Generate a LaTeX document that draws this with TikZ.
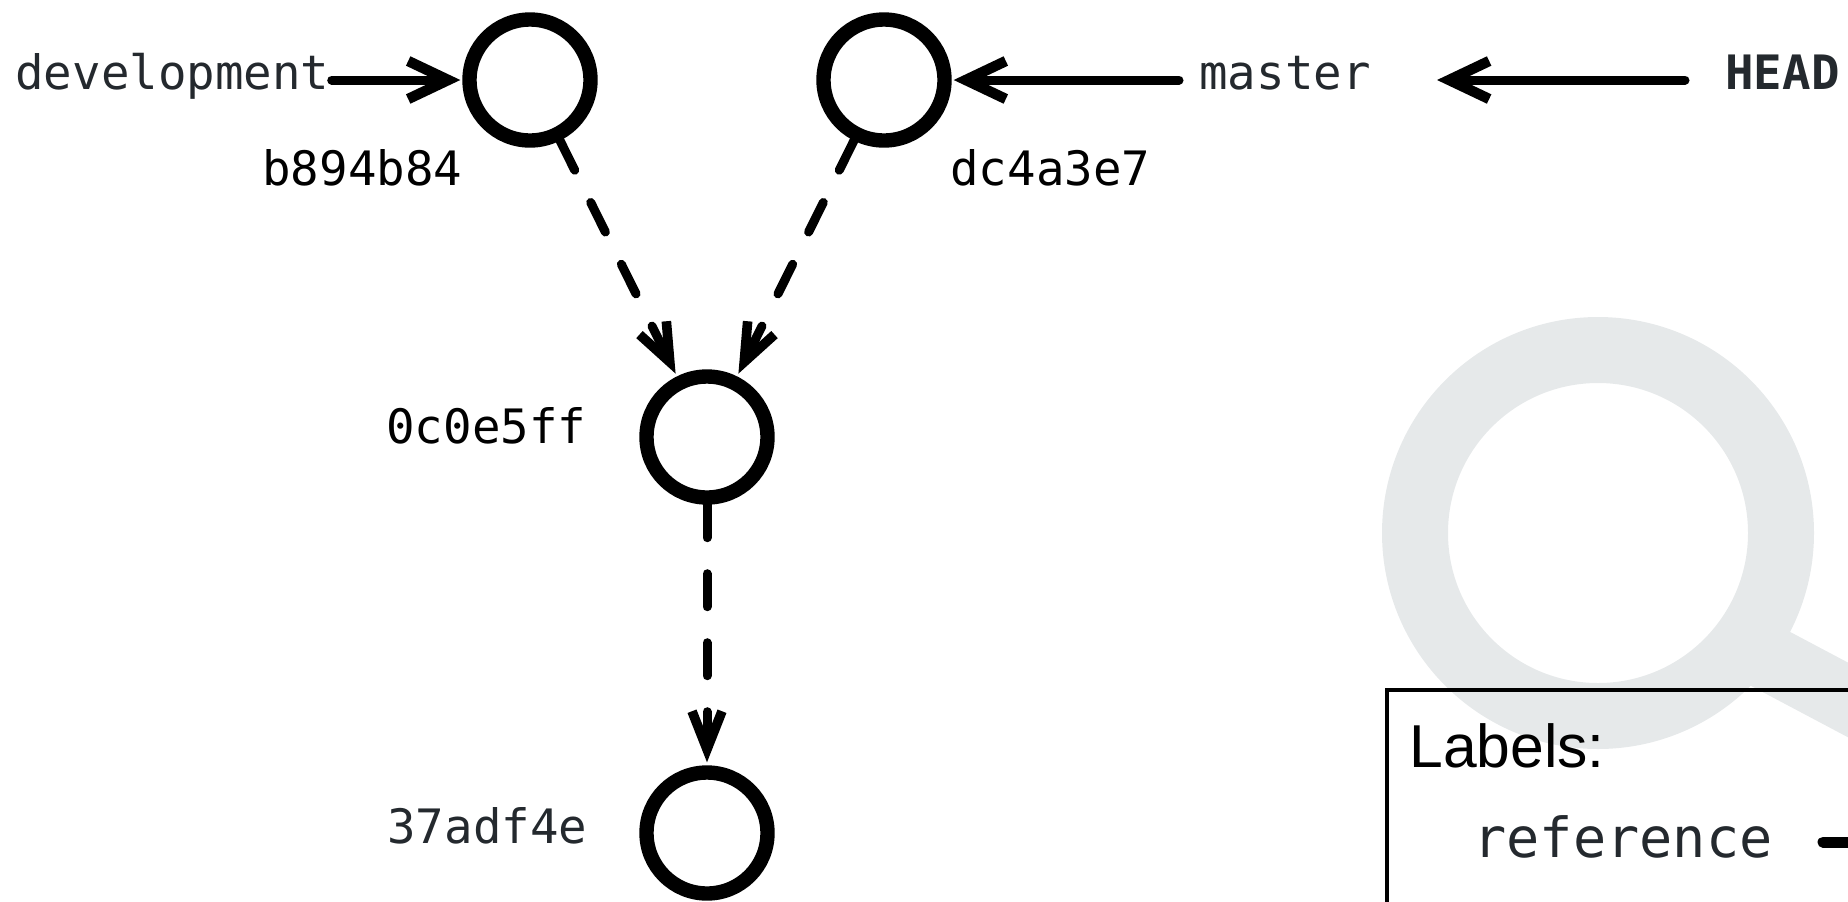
\documentclass[tikz,border=0pt]{standalone}
\usepackage{fontspec}
\usepackage{xcolor}
\usetikzlibrary{arrows.meta}
\setmainfont{Liberation Sans}
\newfontfamily\hashfont{DejaVu Sans Mono}
\definecolor{Lens}{RGB}{230, 233, 234}
\definecolor{Slate}{RGB}{36, 41, 46}
\tikzset{
    commit/.style={draw,circle,line width=7.2pt,minimum size=60.5pt,inner sep=0pt},
    monotext/.style={anchor=west,inner sep=0pt,text height=15pt,text depth=6pt,font={\hashfont\fontsize{23.7pt}{28pt}\selectfont}},
    reflink/.style={line width=4.5pt,line cap=round,-{Straight Barb[length=20pt,width=19pt,line width=5.2pt]},shorten >=1pt},
    parentlink/.style={line width=4.5pt,line cap=round,dash pattern=on 16.5pt off 18pt,-{Straight Barb[length=19pt,width=15pt,line width=4.8pt]},shorten >=1.5pt}
}

\begin{document}
\begin{tikzpicture}[x=0.5pt,y=-0.5pt]
    \clip (0,0) rectangle (1848,901);
    % lens behind the legend
    \draw[Lens,line width=33pt] (1598,533) circle (183);
    \draw[Lens,line width=33pt] (1750,648) -- (1950,754);

    \node[commit] (b894) at (530,80) {};
    \node[commit] (dc4a) at (884,80) {};
    \node[commit] (c0e5) at (707,437) {};
    \node[commit] (adf4) at (707,833) {};

    \node[monotext,text=black] (b894label) at (262,176) {b894b84};
    \node[monotext,text=black] (dc4alabel) at (950,176) {dc4a3e7};
    \node[monotext,text=black] (c0e5label) at (386,434) {0c0e5ff};
    \node[monotext,text=Slate] (adf4label) at (387,834) {37adf4e};

    \node[monotext,text=Slate] (development) at (15,80) {development};
    \node[monotext,text=Slate] (master) at (1199,80) {master};
    \node[monotext,text=Slate,font={\hashfont\bfseries\fontsize{23.7pt}{28pt}\selectfont}] (head) at (1725,80) {HEAD};

    \draw[reflink,shorten <=1pt] (development) -- (b894);
    \draw[reflink,shorten <=10pt] (master) -- (dc4a);
    \draw[reflink,shorten <=20pt,shorten >=33pt] (head) -- (master);

    \draw[parentlink] (b894) -- (c0e5);
    \draw[parentlink] (dc4a) -- (c0e5);
    \draw[parentlink] (c0e5) -- (adf4);

    % legend, runs off the page
    \draw[line width=2pt] (1386.5,690) rectangle (1950,1000);
    \node[anchor=base west,inner sep=0pt,font={\fontsize{30.3pt}{34pt}\selectfont}] (legendtitle) at (1409,767) {Labels:};
    \node[monotext,text=Slate,font={\hashfont\fontsize{27.6pt}{32pt}\selectfont}] (legendref) at (1473,848) {reference};
    \coordinate (legendstart) at (1823,842);
    \coordinate (legendend) at (1950,842);
    \draw[line width=5.5pt,line cap=round] (legendstart) -- (legendend);
\end{tikzpicture}
\end{document}
